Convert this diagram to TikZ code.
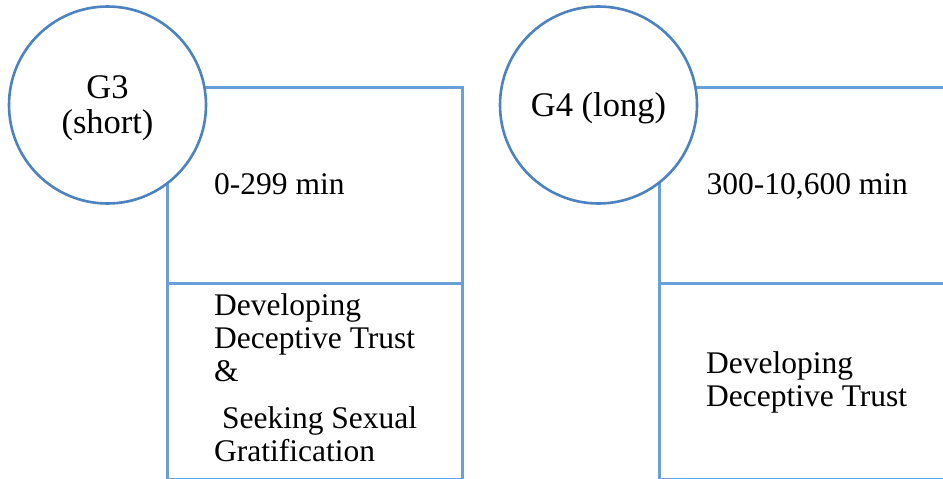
\documentclass[tikz,border=0pt]{standalone}
\usepackage{fontspec}
\setmainfont{Liberation Serif}
\definecolor{boxblue}{RGB}{106,160,218}
\definecolor{ringblue}{RGB}{77,130,192}
\begin{document}
\begin{tikzpicture}[x=1pt,y=-1pt,
  cell/.style={draw=boxblue, line width=2.5pt, rectangle, anchor=north west, inner sep=0pt},
  phase/.style={draw=ringblue, line width=2.6pt, circle, fill=white, minimum size=197pt, inner sep=0pt},
  phasetext/.style={anchor=base, inner sep=0pt, align=center, font=\fontsize{34.5}{35}\selectfont},
  celltext/.style={anchor=base west, inner sep=0pt, align=left, font=\fontsize{31.5}{33}\selectfont}]
\clip (0,0) rectangle (943,479);
% duration / behaviour cells
\node[cell, minimum width=295pt, minimum height=196pt] (t3) at (166,86) {};
\node[cell, minimum width=295pt, minimum height=196pt] (b3) at (166,282) {};
\node[cell, minimum width=300pt, minimum height=196pt] (t4) at (658,86) {};
\node[cell, minimum width=300pt, minimum height=196pt] (b4) at (658,282) {};
% group circles and their labels (anchored on the last baseline)
\node[phase] (g3) at (107.5,105) {};
\node[phase] (g4) at (598.5,105) {};
\node[phasetext] (g3t) at (107.5,133) {G3\\(short)};
\node[phasetext] (g4t) at (598.5,116.5) {G4 (long)};
% cell texts
\node[celltext] (d3) at (214,194) {0-299 min};
\node[celltext] (d4) at (706.5,194) {300-10,600 min};
\node[celltext] (s3) at (214,461.5) {Developing\\Deceptive Trust\\\&\\[14pt]\ Seeking Sexual\\Gratification};
\node[celltext] (s4) at (706,406) {Developing\\Deceptive Trust};
\end{tikzpicture}
\end{document}
